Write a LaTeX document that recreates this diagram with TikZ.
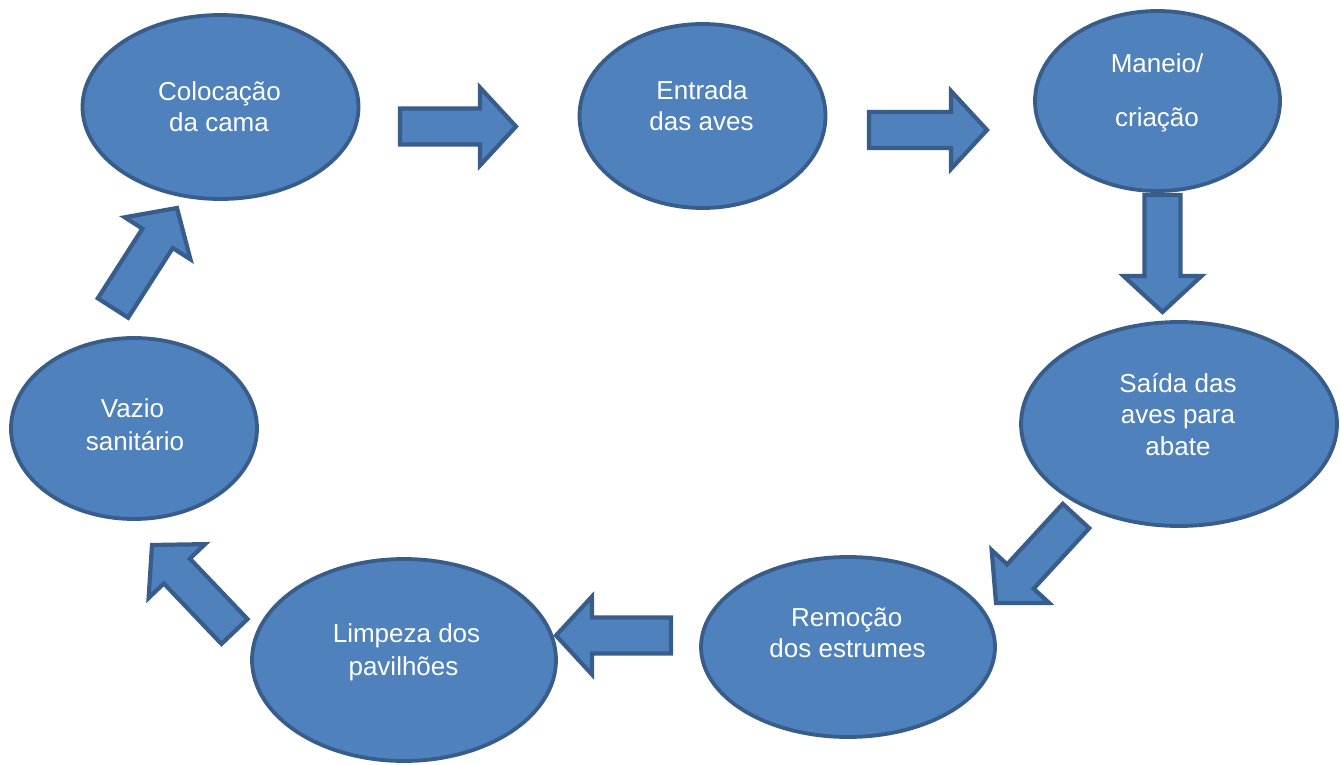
\documentclass[tikz,border=0pt]{standalone}
\usepackage{fontspec}
\setmainfont{Liberation Sans}
\usetikzlibrary{shapes.geometric,calc}
\definecolor{bfill}{HTML}{4F81BD}
\definecolor{bline}{HTML}{385D8A}
\tikzset{
  stage/.style={ellipse,draw=bline,fill=bfill,line width=3.8pt,inner sep=0pt},
  lbl/.style={anchor=base,text=white,inner sep=0pt,font=\fontsize{26}{31}\selectfont},
  barrow/.style={draw=bline,fill=bfill,line width=4.2pt,line join=miter}
}
\newcommand{\blockarrow}[2]{%
  \path[barrow]
    ($(#1)!18pt!-90:(#2)$) --
    ($($(#2)!36pt!(#1)$)!18pt!-90:(#2)$) --
    ($($(#2)!36pt!(#1)$)!39pt!-90:(#2)$) --
    (#2) --
    ($($(#2)!36pt!(#1)$)!39pt!90:(#2)$) --
    ($($(#2)!36pt!(#1)$)!18pt!90:(#2)$) --
    ($(#1)!18pt!90:(#2)$) -- cycle;}
\begin{document}
\begin{tikzpicture}[x=1pt,y=-1pt]
\useasboundingbox (0,0) rectangle (1341,765);
% stages
\node[stage,minimum width=276pt,minimum height=184pt] (s1) at (220.5,107) {};
\node[stage,minimum width=246pt,minimum height=184pt] (s2) at (702.5,116) {};
\node[stage,minimum width=245pt,minimum height=180pt] (s3) at (1157.5,101) {};
\node[stage,minimum width=316pt,minimum height=204pt] (s4) at (1179,424) {};
\node[stage,minimum width=294pt,minimum height=180pt] (s5) at (848,647) {};
\node[stage,minimum width=304pt,minimum height=202pt] (s6) at (404,660) {};
\node[stage,minimum width=246pt,minimum height=181pt] (s7) at (134,428.5) {};
% labels
\node[lbl] (t1a) at (219.5,100.5) {Colocação};
\node[lbl] (t1b) at (219,131.5) {da cama};
\node[lbl] (t2a) at (702,99.5) {Entrada};
\node[lbl] (t2b) at (701.5,130.5) {das aves};
\node[lbl] (t3a) at (1157,73) {Maneio/};
\node[lbl] (t3b) at (1157,127) {criação};
\node[lbl] (t4a) at (1178,392) {Saída das};
\node[lbl] (t4b) at (1178,423.5) {aves para};
\node[lbl] (t4c) at (1178,455) {abate};
\node[lbl] (t5a) at (846.7,626.7) {Remoção};
\node[lbl] (t5b) at (847.5,657.5) {dos estrumes};
\node[lbl] (t6a) at (406.5,642) {Limpeza dos};
\node[lbl] (t6b) at (403.5,675) {pavilhões};
\node[lbl] (t7a) at (132.5,417.5) {Vazio};
\node[lbl] (t7b) at (135,450.5) {sanitário};
% arrow end points
\coordinate (a1t) at (400,126.5);  \coordinate (a1h) at (516,126.5);
\coordinate (a2t) at (869,130);    \coordinate (a2h) at (987,130);
\coordinate (a3t) at (1162.5,195); \coordinate (a3h) at (1162.5,312);
\coordinate (a4t) at (1076,516);   \coordinate (a4h) at (996,603);
\coordinate (a5t) at (671,635.5);  \coordinate (a5h) at (556,635.5);
\coordinate (a6t) at (234.5,631.5);\coordinate (a6h) at (152,545);
\coordinate (a7t) at (113,308);    \coordinate (a7h) at (177,208);
\blockarrow{a1t}{a1h}
\blockarrow{a2t}{a2h}
\blockarrow{a3t}{a3h}
\blockarrow{a4t}{a4h}
\blockarrow{a5t}{a5h}
\blockarrow{a6t}{a6h}
\blockarrow{a7t}{a7h}
\end{tikzpicture}
\end{document}
